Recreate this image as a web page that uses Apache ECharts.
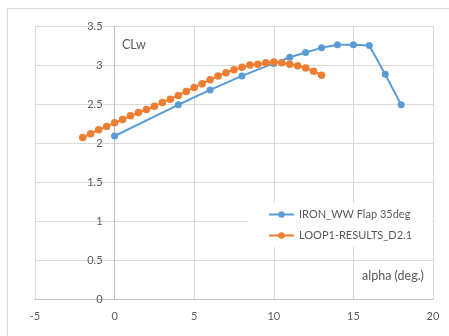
<!DOCTYPE html>
<html>
<head>
<meta charset="utf-8">
<script src="https://cdn.jsdelivr.net/npm/echarts@6/dist/echarts.min.js"></script>
<style>
html,body{margin:0;padding:0;background:#fff;}
#frame{position:absolute;left:7px;top:8px;width:460px;height:340px;border:1px solid #d9d9d9;box-sizing:border-box;}
#chart{position:absolute;left:0;top:0;width:449px;height:336px;}
</style>
</head>
<body>
<div id="frame"></div>
<div id="chart"></div>
<script>
var ironAlpha = [0, 4, 6, 8, 10, 11, 12, 13, 14, 15, 16, 17, 18];
var ironCL = [2.09, 2.49, 2.68, 2.86, 3.02, 3.10, 3.16, 3.22, 3.26, 3.26, 3.25, 2.88, 2.49];
var loopAlpha = [-2, -1.5, -1, -0.5, 0, 0.5, 1, 1.5, 2, 2.5, 3, 3.5, 4, 4.5, 5, 5.5, 6, 6.5, 7, 7.5, 8, 8.5, 9, 9.5, 10, 10.5, 11, 11.5, 12, 12.5, 13];
var loopCL = [2.07, 2.12, 2.17, 2.21, 2.26, 2.30, 2.35, 2.39, 2.43, 2.47, 2.52, 2.56, 2.61, 2.66, 2.71, 2.76, 2.81, 2.86, 2.90, 2.94, 2.97, 3.00, 3.01, 3.03, 3.04, 3.03, 3.01, 2.99, 2.96, 2.92, 2.87];
var seriesNames = ['IRON_WW Flap 35deg', 'LOOP1-RESULTS_D2.1'];
var xTicks = {min: -5, max: 20, interval: 5};
var yTicks = {min: 0, max: 3.5, interval: 0.5};

function pairs(xs, ys) { return xs.map(function (x, i) { return [x, ys[i]]; }); }

var font = 'Lato, "Open Sans", sans-serif';
var gridLeft = 35, gridRight = 16;
var plotW = 449 - gridLeft - gridRight;
// y axis crosses the x axis at alpha = 0
var yAxisOffset = -plotW * (0 - xTicks.min) / (xTicks.max - xTicks.min);

var chart = echarts.init(document.getElementById('chart'), null, {renderer: 'canvas'});
chart.setOption({
  animation: false,
  textStyle: {fontFamily: font},
  grid: {left: gridLeft, right: gridRight, top: 26, bottom: 37, containLabel: false},
  xAxis: {
    type: 'value', min: xTicks.min, max: xTicks.max, interval: xTicks.interval,
    axisLine: {show: true, onZero: false, lineStyle: {color: '#bfbfbf', width: 1}},
    axisTick: {show: false},
    axisLabel: {color: '#595959', fontSize: 11, fontFamily: font, margin: 12},
    splitLine: {show: true, lineStyle: {color: '#d9d9d9', width: 1}}
  },
  yAxis: {
    type: 'value', min: yTicks.min, max: yTicks.max, interval: yTicks.interval,
    position: 'left', offset: yAxisOffset,
    axisLine: {show: true, onZero: false, lineStyle: {color: '#bfbfbf', width: 1}},
    axisTick: {show: false},
    axisLabel: {color: '#595959', fontSize: 11, fontFamily: font, margin: 12},
    splitLine: {show: true, lineStyle: {color: '#d9d9d9', width: 1}}
  },
  legend: {
    orient: 'vertical', left: 248, top: 203,
    padding: [6, 20, 6, 20], itemGap: 10,
    backgroundColor: '#ffffff',
    itemWidth: 25, itemHeight: 8,
    textStyle: {color: '#595959', fontSize: 11, fontFamily: font},
    data: seriesNames
  },
  graphic: [
    {type: 'text', left: 122, top: 38, style: {text: 'CLw', fill: '#595959', font: '12.5px ' + font}},
    {type: 'text', left: 362, top: 269, style: {text: 'alpha (deg.)', fill: '#595959', font: '12.5px ' + font}}
  ],
  series: [
    {
      name: seriesNames[0], type: 'line', data: pairs(ironAlpha, ironCL),
      symbol: 'circle', symbolSize: 7, z: 3,
      itemStyle: {color: '#5B9BD5'}, lineStyle: {color: '#5B9BD5', width: 2}
    },
    {
      name: seriesNames[1], type: 'line', data: pairs(loopAlpha, loopCL),
      symbol: 'circle', symbolSize: 7.5, z: 4,
      itemStyle: {color: '#ED7D31'}, lineStyle: {color: '#ED7D31', width: 2}
    }
  ]
});
</script>
</body>
</html>
